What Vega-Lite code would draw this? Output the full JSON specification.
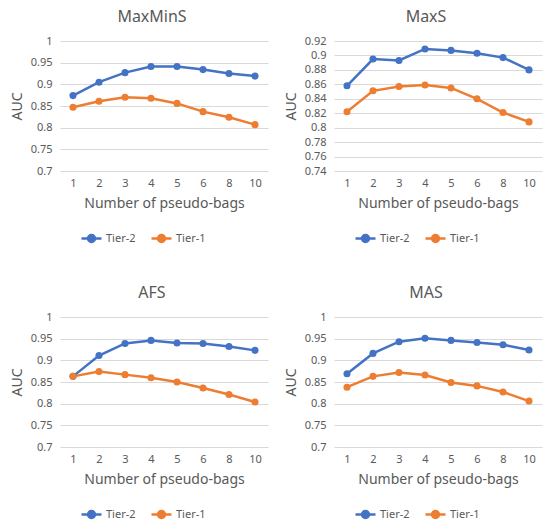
{
  "$schema": "https://vega.github.io/schema/vega-lite/v6.json",
  "background": "white",
  "padding": {"left": 10, "top": 9, "right": 5, "bottom": 20},
  "columns": 2,
  "spacing": {"row": 38, "column": 16},
  "resolve": {"legend": {"color": "independent"}, "scale": {"y": "independent"}},
  "config": {
    "font": "Noto Sans",
    "view": {"stroke": null},
    "axis": {"labelColor": "#595959", "titleColor": "#595959", "titleFontWeight": "normal", "gridColor": "#D9D9D9", "domain": false, "ticks": false, "labelFontSize": 11, "titleFontSize": 14},
    "title": {"color": "#595959", "fontSize": 16, "fontWeight": "normal", "frame": "group", "dx": -12, "offset": 10},
    "legend": {"labelColor": "#595959", "labelFontSize": 11, "orient": "none", "legendX": 20, "legendY": 186, "direction": "horizontal", "title": null, "symbolType": "M-1,0H1M0.35,0A0.35,0.35,0,1,1,-0.35,0A0.35,0.35,0,1,1,0.35,0", "symbolSize": 400, "symbolStrokeWidth": 2.5, "columnPadding": 10, "labelOffset": 3}
  },
  "datasets": {
    "d": [
      {"panel": "MaxMinS", "tier": "Tier-2", "bags": 1, "auc": 0.874},
      {"panel": "MaxMinS", "tier": "Tier-2", "bags": 2, "auc": 0.905},
      {"panel": "MaxMinS", "tier": "Tier-2", "bags": 3, "auc": 0.927},
      {"panel": "MaxMinS", "tier": "Tier-2", "bags": 4, "auc": 0.941},
      {"panel": "MaxMinS", "tier": "Tier-2", "bags": 5, "auc": 0.941},
      {"panel": "MaxMinS", "tier": "Tier-2", "bags": 6, "auc": 0.934},
      {"panel": "MaxMinS", "tier": "Tier-2", "bags": 8, "auc": 0.925},
      {"panel": "MaxMinS", "tier": "Tier-2", "bags": 10, "auc": 0.919},
      {"panel": "MaxMinS", "tier": "Tier-1", "bags": 1, "auc": 0.847},
      {"panel": "MaxMinS", "tier": "Tier-1", "bags": 2, "auc": 0.861},
      {"panel": "MaxMinS", "tier": "Tier-1", "bags": 3, "auc": 0.870},
      {"panel": "MaxMinS", "tier": "Tier-1", "bags": 4, "auc": 0.868},
      {"panel": "MaxMinS", "tier": "Tier-1", "bags": 5, "auc": 0.856},
      {"panel": "MaxMinS", "tier": "Tier-1", "bags": 6, "auc": 0.837},
      {"panel": "MaxMinS", "tier": "Tier-1", "bags": 8, "auc": 0.824},
      {"panel": "MaxMinS", "tier": "Tier-1", "bags": 10, "auc": 0.807},
      {"panel": "MaxS", "tier": "Tier-2", "bags": 1, "auc": 0.858},
      {"panel": "MaxS", "tier": "Tier-2", "bags": 2, "auc": 0.895},
      {"panel": "MaxS", "tier": "Tier-2", "bags": 3, "auc": 0.893},
      {"panel": "MaxS", "tier": "Tier-2", "bags": 4, "auc": 0.909},
      {"panel": "MaxS", "tier": "Tier-2", "bags": 5, "auc": 0.907},
      {"panel": "MaxS", "tier": "Tier-2", "bags": 6, "auc": 0.903},
      {"panel": "MaxS", "tier": "Tier-2", "bags": 8, "auc": 0.897},
      {"panel": "MaxS", "tier": "Tier-2", "bags": 10, "auc": 0.880},
      {"panel": "MaxS", "tier": "Tier-1", "bags": 1, "auc": 0.822},
      {"panel": "MaxS", "tier": "Tier-1", "bags": 2, "auc": 0.851},
      {"panel": "MaxS", "tier": "Tier-1", "bags": 3, "auc": 0.857},
      {"panel": "MaxS", "tier": "Tier-1", "bags": 4, "auc": 0.859},
      {"panel": "MaxS", "tier": "Tier-1", "bags": 5, "auc": 0.855},
      {"panel": "MaxS", "tier": "Tier-1", "bags": 6, "auc": 0.840},
      {"panel": "MaxS", "tier": "Tier-1", "bags": 8, "auc": 0.821},
      {"panel": "MaxS", "tier": "Tier-1", "bags": 10, "auc": 0.808},
      {"panel": "AFS", "tier": "Tier-2", "bags": 1, "auc": 0.863},
      {"panel": "AFS", "tier": "Tier-2", "bags": 2, "auc": 0.911},
      {"panel": "AFS", "tier": "Tier-2", "bags": 3, "auc": 0.939},
      {"panel": "AFS", "tier": "Tier-2", "bags": 4, "auc": 0.946},
      {"panel": "AFS", "tier": "Tier-2", "bags": 5, "auc": 0.940},
      {"panel": "AFS", "tier": "Tier-2", "bags": 6, "auc": 0.939},
      {"panel": "AFS", "tier": "Tier-2", "bags": 8, "auc": 0.932},
      {"panel": "AFS", "tier": "Tier-2", "bags": 10, "auc": 0.923},
      {"panel": "AFS", "tier": "Tier-1", "bags": 1, "auc": 0.863},
      {"panel": "AFS", "tier": "Tier-1", "bags": 2, "auc": 0.874},
      {"panel": "AFS", "tier": "Tier-1", "bags": 3, "auc": 0.867},
      {"panel": "AFS", "tier": "Tier-1", "bags": 4, "auc": 0.860},
      {"panel": "AFS", "tier": "Tier-1", "bags": 5, "auc": 0.850},
      {"panel": "AFS", "tier": "Tier-1", "bags": 6, "auc": 0.836},
      {"panel": "AFS", "tier": "Tier-1", "bags": 8, "auc": 0.821},
      {"panel": "AFS", "tier": "Tier-1", "bags": 10, "auc": 0.804},
      {"panel": "MAS", "tier": "Tier-2", "bags": 1, "auc": 0.869},
      {"panel": "MAS", "tier": "Tier-2", "bags": 2, "auc": 0.916},
      {"panel": "MAS", "tier": "Tier-2", "bags": 3, "auc": 0.943},
      {"panel": "MAS", "tier": "Tier-2", "bags": 4, "auc": 0.951},
      {"panel": "MAS", "tier": "Tier-2", "bags": 5, "auc": 0.946},
      {"panel": "MAS", "tier": "Tier-2", "bags": 6, "auc": 0.941},
      {"panel": "MAS", "tier": "Tier-2", "bags": 8, "auc": 0.936},
      {"panel": "MAS", "tier": "Tier-2", "bags": 10, "auc": 0.924},
      {"panel": "MAS", "tier": "Tier-1", "bags": 1, "auc": 0.838},
      {"panel": "MAS", "tier": "Tier-1", "bags": 2, "auc": 0.863},
      {"panel": "MAS", "tier": "Tier-1", "bags": 3, "auc": 0.872},
      {"panel": "MAS", "tier": "Tier-1", "bags": 4, "auc": 0.866},
      {"panel": "MAS", "tier": "Tier-1", "bags": 5, "auc": 0.849},
      {"panel": "MAS", "tier": "Tier-1", "bags": 6, "auc": 0.841},
      {"panel": "MAS", "tier": "Tier-1", "bags": 8, "auc": 0.827},
      {"panel": "MAS", "tier": "Tier-1", "bags": 10, "auc": 0.806}
    ]
  },
  "concat": [
    {
      "title": "MaxMinS",
      "width": 208, "height": 130,
      "data": {"name": "d"},
      "transform": [{"filter": "datum.panel === 'MaxMinS'"}],
      "mark": {"type": "line", "strokeWidth": 2.5, "point": {"filled": true, "size": 50}},
      "encoding": {
        "x": {"field": "bags", "type": "ordinal", "sort": "ascending", "scale": {"type": "point", "padding": 0.5}, "axis": {"labelAngle": 0, "grid": false, "labelPadding": 6, "title": "Number of pseudo-bags", "titlePadding": 8}},
        "y": {"field": "auc", "type": "quantitative", "scale": {"domain": [0.7, 1]}, "axis": {"values": [0.7, 0.75, 0.8, 0.85, 0.9, 0.95, 1], "format": "~g", "title": "AUC", "labelPadding": 8, "titlePadding": 6}},
        "color": {"field": "tier", "type": "nominal", "scale": {"domain": ["Tier-2", "Tier-1"], "range": ["#4472C4", "#ED7D31"]}}
      }
    },
    {
      "title": "MaxS",
      "width": 208, "height": 130,
      "data": {"name": "d"},
      "transform": [{"filter": "datum.panel === 'MaxS'"}],
      "mark": {"type": "line", "strokeWidth": 2.5, "point": {"filled": true, "size": 50}},
      "encoding": {
        "x": {"field": "bags", "type": "ordinal", "sort": "ascending", "scale": {"type": "point", "padding": 0.5}, "axis": {"labelAngle": 0, "grid": false, "labelPadding": 6, "title": "Number of pseudo-bags", "titlePadding": 8}},
        "y": {"field": "auc", "type": "quantitative", "scale": {"domain": [0.74, 0.92]}, "axis": {"values": [0.74, 0.76, 0.78, 0.8, 0.82, 0.84, 0.86, 0.88, 0.9, 0.92], "format": "~g", "title": "AUC", "labelPadding": 8, "titlePadding": 6}},
        "color": {"field": "tier", "type": "nominal", "scale": {"domain": ["Tier-2", "Tier-1"], "range": ["#4472C4", "#ED7D31"]}}
      }
    },
    {
      "title": "AFS",
      "width": 208, "height": 130,
      "data": {"name": "d"},
      "transform": [{"filter": "datum.panel === 'AFS'"}],
      "mark": {"type": "line", "strokeWidth": 2.5, "point": {"filled": true, "size": 50}},
      "encoding": {
        "x": {"field": "bags", "type": "ordinal", "sort": "ascending", "scale": {"type": "point", "padding": 0.5}, "axis": {"labelAngle": 0, "grid": false, "labelPadding": 6, "title": "Number of pseudo-bags", "titlePadding": 8}},
        "y": {"field": "auc", "type": "quantitative", "scale": {"domain": [0.7, 1]}, "axis": {"values": [0.7, 0.75, 0.8, 0.85, 0.9, 0.95, 1], "format": "~g", "title": "AUC", "labelPadding": 8, "titlePadding": 6}},
        "color": {"field": "tier", "type": "nominal", "scale": {"domain": ["Tier-2", "Tier-1"], "range": ["#4472C4", "#ED7D31"]}}
      }
    },
    {
      "title": "MAS",
      "width": 208, "height": 130,
      "data": {"name": "d"},
      "transform": [{"filter": "datum.panel === 'MAS'"}],
      "mark": {"type": "line", "strokeWidth": 2.5, "point": {"filled": true, "size": 50}},
      "encoding": {
        "x": {"field": "bags", "type": "ordinal", "sort": "ascending", "scale": {"type": "point", "padding": 0.5}, "axis": {"labelAngle": 0, "grid": false, "labelPadding": 6, "title": "Number of pseudo-bags", "titlePadding": 8}},
        "y": {"field": "auc", "type": "quantitative", "scale": {"domain": [0.7, 1]}, "axis": {"values": [0.7, 0.75, 0.8, 0.85, 0.9, 0.95, 1], "format": "~g", "title": "AUC", "labelPadding": 8, "titlePadding": 6}},
        "color": {"field": "tier", "type": "nominal", "scale": {"domain": ["Tier-2", "Tier-1"], "range": ["#4472C4", "#ED7D31"]}}
      }
    }
  ]
}
